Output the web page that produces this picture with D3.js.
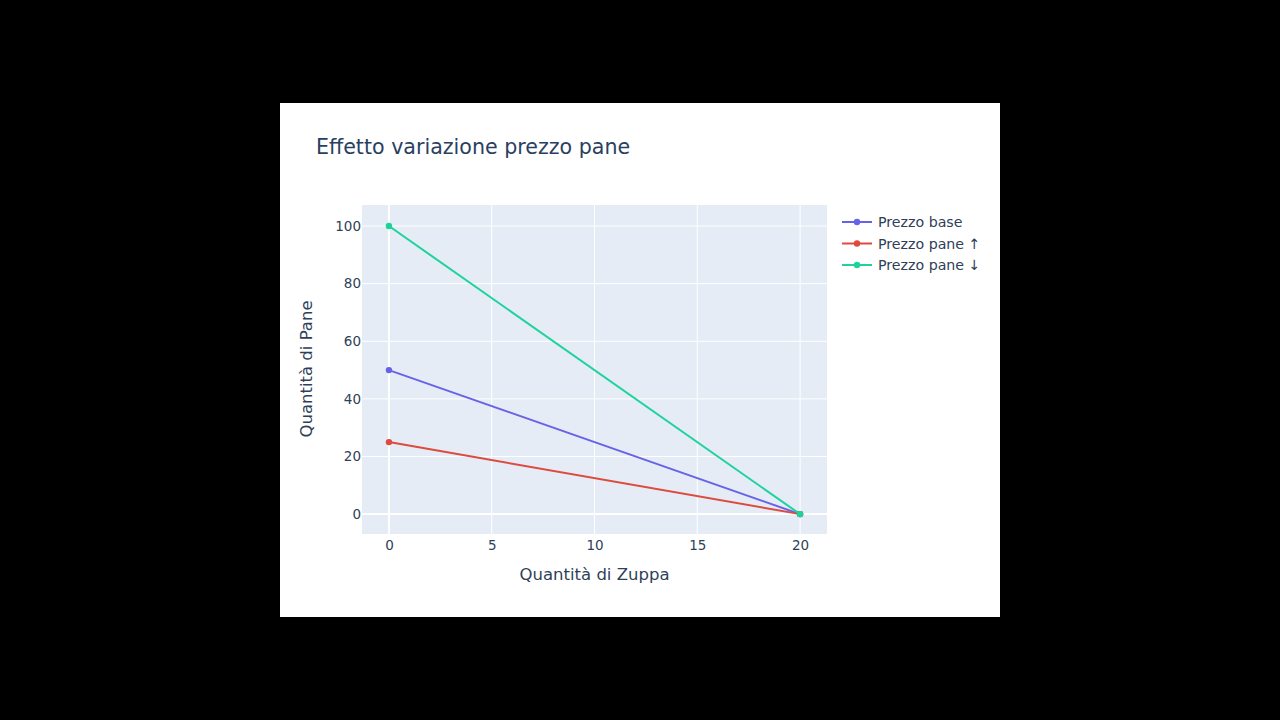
<!DOCTYPE html>
<html>
<head>
<meta charset="utf-8">
<script src="https://cdn.jsdelivr.net/npm/d3@7"></script>
<style>
  body { margin: 0; background: #000; }
  svg { display: block; font-family: "DejaVu Sans", sans-serif; }
</style>
</head>
<body>
<svg id="canvas" width="1280" height="720"></svg>
<script>
// data
let seriesNames = ['Prezzo base', 'Prezzo pane \u2191', 'Prezzo pane \u2193']
let seriesColors = ['#6763e6', '#dc4b3e', '#1dd39c']
let zuppa = [0, 20]
let paneBase = [50, 0]
let paneUp = [25, 0]
let paneDown = [100, 0]
let xTicks = [0, 5, 10, 15, 20]
let yTicks = [0, 20, 40, 60, 80, 100]

let allSeries = [paneBase, paneUp, paneDown]

let svg = d3.select('#canvas')

// white paper
svg.append('rect')
    .attr('x', 280).attr('y', 103)
    .attr('width', 720).attr('height', 514)
    .attr('fill', '#fff')

let plot = { left: 362, right: 827, top: 205, bottom: 534 }

let x = d3.scaleLinear().domain([-1.31, 21.31]).range([plot.left, plot.right])
let y = d3.scaleLinear().domain([-6.9, 107.3]).range([plot.bottom, plot.top])

svg.append('rect')
    .attr('x', plot.left).attr('y', plot.top)
    .attr('width', plot.right - plot.left).attr('height', plot.bottom - plot.top)
    .attr('fill', '#E5ECF6')

// grid
svg.append('g').selectAll('line')
    .data(xTicks)
    .enter().append('line')
    .attr('x1', d => x(d)).attr('x2', d => x(d))
    .attr('y1', plot.top).attr('y2', plot.bottom)
    .attr('stroke', '#fff')
    .attr('stroke-width', d => d === 0 ? 2 : 1)

svg.append('g').selectAll('line')
    .data(yTicks)
    .enter().append('line')
    .attr('y1', d => y(d)).attr('y2', d => y(d))
    .attr('x1', plot.left).attr('x2', plot.right)
    .attr('stroke', '#fff')
    .attr('stroke-width', d => d === 0 ? 2 : 1)

// axes (labels only)
let xAxis = svg.append('g')
    .attr('transform', 'translate(0,' + plot.bottom + ')')
    .call(d3.axisBottom(x).tickValues(xTicks).tickSize(0).tickPadding(6))
xAxis.select('.domain').remove()
xAxis.selectAll('text').attr('fill', '#2f3f58').style('font-size', '13.5px')
    .style('font-family', '"DejaVu Sans", sans-serif')

let yAxis = svg.append('g')
    .attr('transform', 'translate(' + plot.left + ',0)')
    .call(d3.axisLeft(y).tickValues(yTicks).tickSize(0).tickPadding(1))
yAxis.select('.domain').remove()
yAxis.selectAll('text').attr('fill', '#2f3f58').style('font-size', '13.5px')
    .style('font-family', '"DejaVu Sans", sans-serif')

// lines
let line = d3.line()
    .x((d, i) => x(zuppa[i]))
    .y(d => y(d))

allSeries.forEach((s, k) => {
    svg.append('path')
        .datum(s)
        .attr('d', line)
        .attr('fill', 'none')
        .attr('stroke', seriesColors[k])
        .attr('stroke-width', 2)
})
allSeries.forEach((s, k) => {
    svg.append('g').selectAll('circle')
        .data(s)
        .enter().append('circle')
        .attr('cx', (d, i) => x(zuppa[i]))
        .attr('cy', d => y(d))
        .attr('r', 3.2)
        .attr('fill', seriesColors[k])
})

// titles
svg.append('text')
    .attr('x', 316).attr('y', 154)
    .attr('fill', '#2a3f5f')
    .style('font-size', '20.6px')
    .text('Effetto variazione prezzo pane')

svg.append('text')
    .attr('x', (plot.left + plot.right) / 2).attr('y', 580)
    .attr('text-anchor', 'middle')
    .attr('fill', '#2f3f58')
    .style('font-size', '16.5px')
    .text('Quantit\u00e0 di Zuppa')

svg.append('text')
    .attr('transform', 'translate(312,' + 369 + ') rotate(-90)')
    .attr('text-anchor', 'middle')
    .attr('fill', '#2f3f58')
    .style('font-size', '16.5px')
    .text('Quantit\u00e0 di Pane')

// legend
let legend = svg.append('g')
seriesNames.forEach((name, k) => {
    let ly = 222 + k * 21.5
    legend.append('line')
        .attr('x1', 842).attr('x2', 872)
        .attr('y1', ly).attr('y2', ly)
        .attr('stroke', seriesColors[k]).attr('stroke-width', 2)
    legend.append('circle')
        .attr('cx', 857).attr('cy', ly).attr('r', 3.2)
        .attr('fill', seriesColors[k])
    legend.append('text')
        .attr('x', 878).attr('y', ly + 5)
        .attr('fill', '#2f3f58')
        .style('font-size', '14.2px')
        .text(name)
})
</script>
</body>
</html>
